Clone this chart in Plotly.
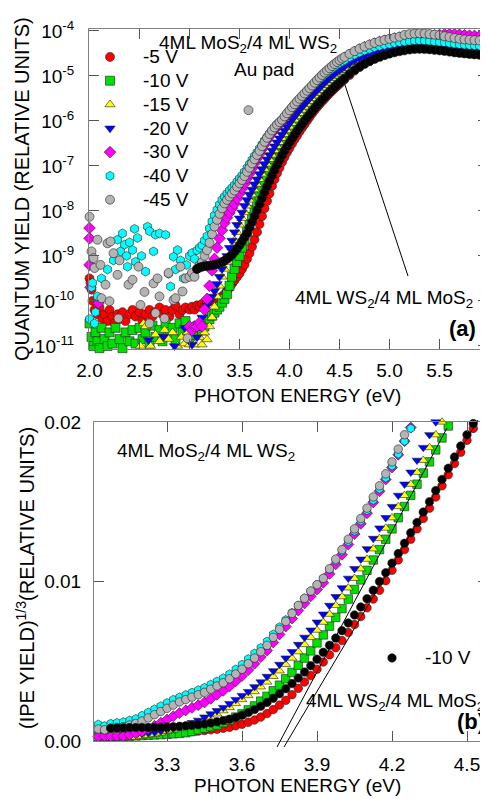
import numpy as np
import plotly.graph_objects as go

# page is 488x799; browser body margin puts the figure at (8, 8)
OX, OY = 8, 8
FW, FH = 488 - OX, 799 - OY
FONT = "Liberation Sans, Arial, sans-serif"

# ---------------- data ----------------
# photon energy grid (eV) shared by all bias series
energy_grid = [
    3.000, 3.025, 3.050, 3.075, 3.100, 3.125, 3.150, 3.175, 3.200, 3.225,
    3.250, 3.275, 3.300, 3.325, 3.350, 3.375, 3.400, 3.425, 3.450, 3.475,
    3.500, 3.525, 3.550, 3.575, 3.600, 3.625, 3.650, 3.675, 3.700, 3.725,
    3.750, 3.775, 3.800, 3.825, 3.850, 3.875, 3.900, 3.925, 3.950, 3.975,
    4.000, 4.025, 4.050, 4.075, 4.100, 4.125, 4.150, 4.175, 4.200, 4.225,
    4.250, 4.275, 4.300, 4.325, 4.350, 4.375, 4.400, 4.425, 4.450, 4.475,
    4.500, 4.525, 4.550, 4.60, 4.65, 4.70, 4.75, 4.80, 4.85, 4.90,
    4.95, 5.00, 5.05, 5.10, 5.15, 5.20, 5.25, 5.30, 5.35, 5.40,
    5.45, 5.50, 5.55, 5.60, 5.65, 5.70, 5.75, 5.80, 5.85, 5.90,
    5.95, 6.00]

# (IPE yield)^(1/3), in units of 1e-3 (relative units), on energy_grid
cbrt_5v = [
    .40, .42, .40, .43, .42, .44, .42, .45, .46, .47,
    .46, .48, .48, .50, .52, .55, .58, .62, .66, .70,
    .74, .80, .86, .95, 1.05, 1.17, 1.32, 1.50, 1.72, 1.97,
    2.25, 2.55, 2.90, 3.30, 3.70, 4.10, 4.50, 4.95, 5.40, 5.85,
    6.30, 6.80, 7.30, 7.80, 8.35, 8.90, 9.45, 10.05, 10.70, 11.35,
    12.00, 12.65, 13.30, 13.95, 14.60, 15.30, 16.00, 16.70, 17.40, 18.10,
    18.85, 19.60, 20.35, 21.9, 23.6, 25.1, 26.5, 27.8, 29.1, 30.2,
    31.1, 32.1, 32.9, 33.6, 34.1, 34.7, 34.9, 34.9, 34.7, 34.4,
    34.1, 33.9, 33.6, 33.1, 32.6, 32.4, 32.1, 31.9, 31.6, 31.6,
    31.4, 31.4]
cbrt_10v = [
    .25, .28, .26, .30, .30, .28, .30, .32, .34, .36,
    .38, .40, .42, .45, .48, .52, .60, .70, .80, .90,
    1.00, 1.15, 1.30, 1.50, 1.70, 1.95, 2.20, 2.50, 2.80, 3.15,
    3.50, 3.90, 4.30, 4.75, 5.20, 5.65, 6.15, 6.65, 7.20, 7.75,
    8.30, 8.90, 9.50, 10.10, 10.70, 11.35, 12.00, 12.65, 13.30, 14.00,
    14.70, 15.40, 16.10, 16.80, 17.50, 18.25, 19.00, 19.75, 20.50, 21.20,
    21.9, 22.6, 23.3, 24.7, 26.1, 27.4, 28.6, 29.7, 30.7, 31.6,
    32.4, 33.1, 33.7, 34.2, 34.6, 34.9, 35.1, 35.1, 35.0, 34.8,
    34.6, 34.4, 34.1, 33.8, 33.5, 33.2, 33.0, 32.8, 32.6, 32.5,
    32.4, 32.3]
cbrt_15v = [
    .22, .20, .22, .20, .25, .22, .27, .24, .30, .35,
    .42, .50, .60, .70, .80, .90, 1.00, 1.15, 1.30, 1.50,
    1.70, 1.90, 2.10, 2.35, 2.60, 2.85, 3.10, 3.40, 3.70, 4.05,
    4.40, 4.80, 5.20, 5.60, 6.05, 6.50, 6.95, 7.45, 7.95, 8.50,
    9.05, 9.60, 10.20, 10.80, 11.40, 12.05, 12.70, 13.35, 14.00, 14.70,
    15.40, 16.10, 16.85, 17.60, 18.40, 19.20, 20.00, 20.80, 21.60, 22.40,
    23.1, 23.8, 24.5, 25.9, 27.2, 28.4, 29.5, 30.5, 31.4, 32.2,
    32.9, 33.5, 34.1, 34.6, 35.0, 35.3, 35.5, 35.5, 35.4, 35.2,
    35.0, 34.8, 34.5, 34.2, 33.9, 33.6, 33.4, 33.2, 33.0, 32.9,
    32.8, 32.7]
cbrt_20v = [
    .20, .22, .20, .25, .30, .35, .40, .43, .46, .50,
    .55, .62, .70, .80, .90, 1.00, 1.15, 1.30, 1.50, 1.70,
    1.90, 2.10, 2.35, 2.60, 2.85, 3.10, 3.40, 3.70, 4.05, 4.40,
    4.80, 5.20, 5.60, 6.05, 6.50, 6.95, 7.45, 7.95, 8.50, 9.05,
    9.60, 10.20, 10.80, 11.40, 12.05, 12.70, 13.35, 14.00, 14.70, 15.40,
    16.10, 16.85, 17.60, 18.40, 19.20, 20.00, 20.80, 21.60, 22.40, 23.20,
    23.9, 24.6, 25.3, 26.7, 28.0, 29.2, 30.3, 31.3, 32.2, 33.0,
    33.7, 34.3, 34.9, 35.4, 35.8, 36.1, 36.3, 36.3, 36.2, 36.0,
    35.8, 35.6, 35.3, 35.0, 34.7, 34.4, 34.2, 34.0, 33.8, 33.7,
    33.6, 33.5]
cbrt_30v = [
    .30, .28, .30, .30, .32, .30, .40, .48, .60, .78,
    .95, 1.15, 1.35, 1.55, 1.75, 1.92, 2.08, 2.25, 2.42, 2.65,
    2.90, 3.15, 3.42, 3.75, 4.08, 4.45, 4.85, 5.27, 5.68, 6.18,
    6.68, 7.18, 7.68, 8.18, 8.63, 9.08, 9.50, 9.92, 10.48, 11.08,
    11.68, 12.32, 12.98, 13.62, 14.28, 14.96, 15.66, 16.40, 17.15, 17.95,
    18.80, 19.65, 20.55, 21.45, 22.35, 23.25, 24.15, 25.05, 25.95, 26.85,
    27.75, 28.55, 29.35, 30.9, 32.4, 33.8, 35.1, 36.3, 37.4, 38.4,
    39.3, 40.1, 40.8, 41.4, 41.9, 42.3, 42.6, 42.7, 42.7, 42.8,
    43.0, 43.4, 43.8, 44.0, 43.9, 43.6, 43.2, 42.9, 42.7, 42.5,
    42.4, 42.3]
cbrt_40v = [
    1.00, 1.05, .95, 1.10, 1.15, 1.20, 1.30, 1.40, 1.60, 1.80,
    2.00, 2.20, 2.40, 2.60, 2.75, 2.90, 3.05, 3.20, 3.35, 3.55,
    3.75, 3.95, 4.20, 4.50, 4.80, 5.15, 5.50, 5.85, 6.25, 6.70,
    7.15, 7.60, 8.05, 8.50, 8.95, 9.40, 9.80, 10.20, 10.75, 11.30,
    11.90, 12.50, 13.15, 13.80, 14.45, 15.10, 15.80, 16.50, 17.25, 18.00,
    18.80, 19.60, 20.40, 21.20, 22.00, 22.80, 23.60, 24.40, 25.20, 26.00,
    26.8, 27.5, 28.2, 29.6, 30.9, 32.1, 33.2, 34.2, 35.1, 35.9,
    36.6, 37.2, 37.8, 38.3, 38.7, 39.0, 39.2, 39.3, 39.2, 38.9,
    38.6, 38.3, 38.0, 37.6, 37.2, 36.9, 36.6, 36.4, 36.2, 36.1,
    36.0, 35.9]
cbrt_45v = [
    .70, .75, .70, .80, .85, .90, 1.00, 1.10, 1.25, 1.45,
    1.65, 1.85, 2.05, 2.25, 2.45, 2.60, 2.75, 2.90, 3.05, 3.25,
    3.45, 3.65, 3.90, 4.20, 4.50, 4.85, 5.20, 5.60, 6.00, 6.50,
    7.00, 7.50, 8.00, 8.50, 8.95, 9.40, 9.80, 10.20, 10.80, 11.40,
    12.00, 12.65, 13.30, 13.95, 14.60, 15.30, 16.00, 16.75, 17.50, 18.30,
    19.20, 20.10, 21.00, 21.90, 22.80, 23.70, 24.60, 25.50, 26.40, 27.30,
    28.2, 29.0, 29.8, 31.4, 32.9, 34.3, 35.6, 36.8, 37.9, 38.9,
    39.8, 40.6, 41.4, 42.1, 43.4, 44.0, 44.4, 44.6, 44.4, 44.0,
    43.6, 43.2, 42.4, 41.8, 41.2, 40.6, 40.2, 39.9, 39.7, 39.5,
    39.3, 39.1]
# 4ML WS2/4ML MoS2 sample, -10 V
cbrt_ws2_10v = [
    None, None, None, .80, .82, .83, .84, .84, .85, .85,
    .86, .87, .88, .90, .92, .95, .98, 1.02, 1.07, 1.13,
    1.20, 1.28, 1.37, 1.47, 1.62, 1.78, 1.97, 2.18, 2.42, 2.68,
    2.97, 3.28, 3.60, 3.95, 4.32, 4.72, 5.13, 5.56, 6.00, 6.45,
    6.92, 7.40, 7.90, 8.40, 8.92, 9.45, 10.00, 10.55, 11.15, 11.75,
    12.40, 13.05, 13.70, 14.35, 15.00, 15.70, 16.40, 17.10, 17.80, 18.50,
    19.2, 19.9, 20.6, 22.3, 23.8, 25.2, 26.5, 27.7, 28.8, 29.8,
    30.7, 31.5, 32.2, 32.8, 33.3, 33.8, 34.1, 34.2, 34.1, 33.9,
    33.6, 33.3, 33.0, 32.6, 32.2, 31.9, 31.6, 31.3, 31.1, 30.9,
    30.8, 30.7]

# low-energy (noise floor) points, same units, shown in panel (a) only
noise_energy_5v = [2.00, 2.01, 2.02, 2.03, 2.05, 2.08, 2.10, 2.13, 2.15, 2.18,
                   2.20, 2.23, 2.25, 2.28, 2.30, 2.33, 2.36, 2.40, 2.43, 2.46,
                   2.50, 2.53, 2.56, 2.60, 2.63, 2.66, 2.70, 2.73, 2.76, 2.80,
                   2.83, 2.86, 2.90, 2.93, 2.96]
noise_cbrt_5v = [.681, .631, .562, .464, .398, .369, .415, .341, .369, .329,
                 .398, .355, .316, .369, .341, .383, .329, .369, .398, .355,
                 .383, .329, .369, .398, .355, .383, .415, .369, .398, .355,
                 .398, .431, .369, .398, .415]
noise_energy_10v = [2.00, 2.02, 2.04, 2.06, 2.08, 2.10, 2.12, 2.15, 2.18, 2.20,
                    2.23, 2.26, 2.30, 2.33, 2.36, 2.40, 2.43, 2.46, 2.50, 2.53,
                    2.56, 2.60, 2.63, 2.66, 2.70, 2.73, 2.76, 2.80, 2.83, 2.86,
                    2.90, 2.93, 2.96]
noise_cbrt_10v = [.316, .251, .215, .271, .233, .207, .293, .242, .215, .271,
                  .224, .293, .242, .207, .271, .233, .282, .224, .293, .242,
                  .271, .224, .304, .251, .282, .233, .316, .261, .293, .242,
                  .316, .271, .329]
noise_energy_15v = [2.51, 2.54, 2.56, 2.61, 2.66, 2.70, 2.75, 2.79, 2.83, 2.88,
                    2.92, 2.95, 2.98]
noise_cbrt_15v = [.215, .316, .300, .215, .261, .233, .282, .242, .271, .215,
                  .251, .224, .271]
noise_energy_20v = [2.59, 2.74, 2.85, 2.95]
noise_cbrt_20v = [.238, .253, .215, .293]
noise_energy_30v = [2.00, 2.00, 2.00, 2.01, 2.09]
noise_cbrt_30v = [1.609, 1.349, .857, .585, .447]
noise_energy_40v = [2.00, 2.02, 2.03, 2.05, 2.06, 2.08, 2.12, 2.18, 2.24, 2.28,
                    2.31, 2.33, 2.35, 2.37, 2.38, 2.40, 2.43, 2.45, 2.46, 2.48,
                    2.52, 2.56, 2.58, 2.60, 2.64, 2.66, 2.70, 2.76, 2.79, 2.81,
                    2.84, 2.86, 2.88, 2.91, 2.94, 2.97]
noise_cbrt_40v = [.341, .585, .631, .316, .383, .501, .681, .794, .926, 1.318,
                  1.080, 1.468, 1.212, 1.000, .832, 1.259, 1.105, 1.585, .905, 1.359,
                  1.000, .765, 1.647, 1.525, 1.080, 1.434, 1.468, 1.434, .736, .593,
                  .985, .794, 1.105, .926, .681, .857]
noise_energy_45v = [2.00, 2.02, 2.04, 2.05, 2.08, 2.11, 2.12, 2.16, 2.18, 2.20,
                    2.21, 2.24, 2.28, 2.29, 2.30, 2.39, 2.43, 2.49, 2.51, 2.55,
                    2.60, 2.64, 2.66, 2.68, 2.70, 2.75, 2.79, 2.84, 2.86, 2.91,
                    2.93, 2.96, 2.98, 3.59]
noise_cbrt_45v = [1.950, 1.080, .962, .813, 1.318, .857, .486, .612, 1.240, .461,
                  1.279, 1.047, .724, .344, .926, .612, .666, .832, .433, .541,
                  .316, .626, .377, .681, .501, .344, .747, .471, .486, .832,
                  .545, .681, .245, 12.02]
noise_energy_ws2_10v = [1.955]
noise_cbrt_ws2_10v = [.355]

series = [
    ("-5 V", "#ff0000", "circle", cbrt_5v, noise_energy_5v, noise_cbrt_5v),
    ("-10 V", "#00e000", "square", cbrt_10v, noise_energy_10v, noise_cbrt_10v),
    ("-15 V", "#ffff00", "triangle-up", cbrt_15v, noise_energy_15v, noise_cbrt_15v),
    ("-20 V", "#0000ff", "triangle-down", cbrt_20v, noise_energy_20v, noise_cbrt_20v),
    ("-30 V", "#ff00ff", "diamond", cbrt_30v, noise_energy_30v, noise_cbrt_30v),
    ("-40 V", "#00ffff", "hexagon", cbrt_40v, noise_energy_40v, noise_cbrt_40v),
    ("-45 V", "#b4b4b4", "circle", cbrt_45v, noise_energy_45v, noise_cbrt_45v),
]
ws2_series = ("-10 V", "#000000", "circle", cbrt_ws2_10v, noise_energy_ws2_10v, noise_cbrt_ws2_10v)


# ---------------- page pixels -> paper ----------------
def px(x):
    return (x - OX) / FW


def py(y):
    return 1 - (y - OY) / FH


fig = go.Figure()
EDGE = "#222222"


def add_series(s, top_legend, bottom_legend):
    name, color, sym, grid, ne, nv = s
    e_top = list(ne) + list(energy_grid)
    v_top = np.array(list(nv) + list(grid), dtype=float) * 1e-3
    ok = ~np.isnan(v_top)
    fig.add_trace(go.Scatter(
        x=np.array(e_top)[ok], y=v_top[ok] ** 3, mode="markers",
        xaxis="x", yaxis="y", cliponaxis=False,
        name='<span style="font-size:19px">%s</span>' % name,
        legend="legend", showlegend=top_legend, hoverinfo="skip",
        marker=dict(symbol=sym, size=9, color=color, line=dict(color=EDGE, width=0.6))))
    e = np.array(energy_grid)
    v = np.array(grid, dtype=float) * 1e-3
    ok = (~np.isnan(v)) & (v <= 0.0201)
    fig.add_trace(go.Scatter(
        x=e[ok], y=v[ok], mode="markers", xaxis="x2", yaxis="y2", cliponaxis=False,
        name='<span style="font-size:19px">%s</span>' % name,
        legend="legend2", showlegend=bottom_legend, hoverinfo="skip",
        marker=dict(symbol=sym, size=8.5, color=color, line=dict(color=EDGE, width=0.6))))


for s in series:
    add_series(s, True, False)
add_series(ws2_series, False, True)

axis_common = dict(showgrid=False, zeroline=False, showline=True, linecolor="#808080",
                   linewidth=1, mirror="ticks", ticks="inside", ticklen=10,
                   tickcolor="#555555", tickwidth=1, automargin=False,
                   tickfont=dict(family=FONT, size=19, color="black"))

fig.update_layout(
    template="none",
    width=FW, height=FH, margin=dict(l=0, r=0, t=0, b=0, autoexpand=False),
    paper_bgcolor="white", plot_bgcolor="white",
    font=dict(family=FONT, color="black"),
    xaxis=dict(domain=[px(89), 1.0], range=[1.995, 5.985], anchor="y",
               tickvals=[2.0, 2.5, 3.0, 3.5, 4.0, 4.5, 5.0, 5.5],
               ticktext=["2.0", "2.5", "3.0", "3.5", "4.0", "4.5", "5.0", "5.5"],
               ticklabelstandoff=4, **axis_common),
    yaxis=dict(domain=[py(349), py(29)], type="log", range=[-11.07, -3.956], anchor="x",
               tickvals=[1e-11, 1e-10, 1e-9, 1e-8, 1e-7, 1e-6, 1e-5, 1e-4],
               ticktext=["10<sup>-11</sup>", "10<sup>-10</sup>", "10<sup>-9</sup>", "10<sup>-8</sup>",
                         "10<sup>-7</sup>", "10<sup>-6</sup>", "10<sup>-5</sup>", "10<sup>-4</sup>"],
               ticklabelstandoff=10, **axis_common),
    xaxis2=dict(domain=[px(94), 1.0], range=[3.008, 4.584], anchor="y2",
                tickvals=[3.3, 3.6, 3.9, 4.2, 4.5],
                ticktext=["3.3", "3.6", "3.9", "4.2", "4.5"],
                ticklabelstandoff=6, **axis_common),
    yaxis2=dict(domain=[py(741), py(422)], range=[0, 0.02], anchor="x2",
                tickvals=[0, 0.01, 0.02], ticktext=["0.00", "0.01", "0.02"],
                ticklabelstandoff=8, **axis_common),
    legend=dict(x=px(77), y=py(40), xanchor="left", yanchor="top",
                bgcolor="rgba(0,0,0,0)", borderwidth=0, itemwidth=56,
                font=dict(family=FONT, size=16, color="black"), tracegroupgap=0),
    legend2=dict(x=px(359), y=py(641), xanchor="left", yanchor="top",
                 bgcolor="rgba(0,0,0,0)", borderwidth=0, itemwidth=56,
                 font=dict(family=FONT, size=16, color="black")),
)


def label(x, y, text, size=19, xanchor="left", yanchor="middle", angle=0, bold=False):
    fig.add_annotation(x=px(x), y=py(y), xref="paper", yref="paper", text=text,
                       showarrow=False, xanchor=xanchor, yanchor=yanchor, textangle=angle,
                       font=dict(family=FONT, size=size, color="black",
                                 weight="bold" if bold else "normal"))


mos2_on_ws2 = "4ML MoS<sub>2</sub>/4 ML WS<sub>2</sub>"
ws2_on_mos2 = "4ML WS<sub>2</sub>/4 ML MoS<sub>2</sub>"

# panel (a)
label(157, 44, mos2_on_ws2)
label(232, 69, "Au pad")
label(293, 299, ws2_on_mos2)
label(478, 328, "(a)", size=22, xanchor="right", bold=True)
label(22, 189, "QUANTUM YIELD (RELATIVE UNITS)", size=20, xanchor="center", angle=-90)
label(297, 395, "PHOTON ENERGY (eV)", size=19, xanchor="center")
fig.add_shape(type="line", xref="paper", yref="paper",
              x0=px(345), y0=py(85), x1=px(408), y1=py(276),
              line=dict(color="black", width=1))

# panel (b)
label(304, 702, ws2_on_mos2)
label(115, 452, mos2_on_ws2)
label(487, 721, "(b)", size=22, xanchor="right", bold=True)
label(25, 578, "(IPE YIELD)<sup>1/3</sup>(RELATIVE UNITS)", size=20, xanchor="center", angle=-90)
label(297, 785, "PHOTON ENERGY (eV)", size=19, xanchor="center")
fig.add_shape(type="line", xref="paper", yref="paper",
              x0=px(277), y0=py(747), x1=px(447), y1=py(428),
              line=dict(color="black", width=1))
fig.add_shape(type="line", xref="paper", yref="paper",
              x0=px(284), y0=py(747), x1=px(478), y1=py(420),
              line=dict(color="black", width=1))

fig.write_html("out.html")
